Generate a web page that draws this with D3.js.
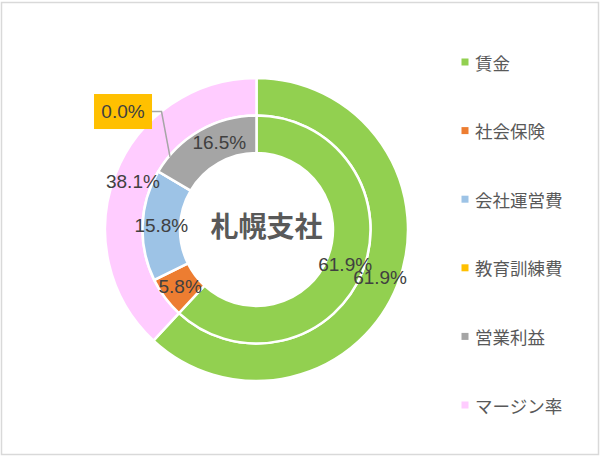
<!DOCTYPE html>
<html><head><meta charset="utf-8">
<script src="https://cdn.jsdelivr.net/npm/d3@7"></script>
<style>html,body{margin:0;padding:0;background:#fff}svg{display:block}</style>
</head><body>
<div id="chart"></div>
<script>
const categories = ["賃金","社会保険","会社運営費","教育訓練費","営業利益","マージン率"];
const innerCategories = ["賃金","社会保険","会社運営費","教育訓練費","営業利益"];
const innerValues = [61.9, 5.8, 15.8, 0.0, 16.5];
const outerCategories = ["賃金","マージン率"];
const outerValues = [61.9, 38.1];
const title = "札幌支社";

const colors = ["#92D050","#ED7D31","#9DC3E6","#FFC000","#A5A5A5","#FFCCFF"];

const W = 600, H = 458;
const cx = 256.5, cy = 229.5;
const svg = d3.select("#chart").append("svg").attr("width", W).attr("height", H);

svg.append("rect").attr("x",1.5).attr("y",2.5).attr("width",597).attr("height",452)
  .attr("fill","#fff").attr("stroke","#D9D9D9").attr("stroke-width",1.5);

const color = d3.scaleOrdinal().domain(categories).range(colors);
const pie = d3.pie().sort(null).value(d => d.v);

const g = svg.append("g").attr("transform", `translate(${cx},${cy})`);

const rings = [
  {cats: outerCategories, vals: outerValues, r0: 114, r1: 151.5},
  {cats: innerCategories, vals: innerValues, r0: 76.5, r1: 114}
];

const labelFont = "'Liberation Sans', Arial, sans-serif";
const nudge = {"営業利益": [10, -4]};

rings.forEach((ring, ri) => {
  const data = ring.cats.map((c, i) => ({c, v: ring.vals[i]}));
  const arcs = pie(data);
  const arc = d3.arc().innerRadius(ring.r0).outerRadius(ring.r1);
  g.selectAll(null).data(arcs).enter().append("path")
    .attr("d", arc).attr("fill", d => color(d.data.c))
    .attr("stroke", "#fff").attr("stroke-width", 2.5).attr("stroke-linejoin","miter");
  ring.arcs = arcs; ring.arc = arc;
});

rings.forEach(ring => {
  ring.arcs.forEach(d => {
    const txt = d.data.v.toFixed(1) + "%";
    let [x, y] = ring.arc.centroid(d);
    if (d.data.v === 0) {
      // callout label with box
      const bx = x - 51.5, by = y - 69.5;
      const bw = 58, bh = 35;
      const end = d3.pointRadial(d.startAngle + 0.165, ring.r1 - 1);
      g.append("path")
        .attr("d", `M${bx + bw/2},${by} H${bx + bw/2 + 9.5} L${end[0]},${end[1]}`)
        .attr("fill","none").attr("stroke","#A6A6A6").attr("stroke-width",1.5);
      g.append("rect").attr("x", bx - bw/2).attr("y", by - bh/2).attr("width", bw).attr("height", bh)
        .attr("fill", color(d.data.c));
      g.append("text").attr("x", bx).attr("y", by).attr("text-anchor","middle")
        .attr("dominant-baseline","central").attr("font-family", labelFont)
        .attr("font-size", 19).attr("fill","#404040").text(txt);
      return;
    }
    const n = nudge[d.data.c];
    if (n && ring.r0 < 100) { x += n[0]; y += n[1]; }
    g.append("text").attr("x", x).attr("y", y).attr("text-anchor","middle")
      .attr("dominant-baseline","central").attr("font-family", labelFont)
      .attr("font-size", 19).attr("fill","#404040").text(txt);
  });
});

g.append("text").attr("x", 10).attr("y", -4.5).attr("text-anchor","middle")
  .attr("dominant-baseline","central")
  .attr("font-family","'Noto Sans CJK JP', sans-serif").attr("font-weight","bold")
  .attr("font-size", 28).attr("fill","#595959").text(title);

// legend
const ly = d3.scalePoint().domain(categories).range([62, 405]);
const lg = svg.append("g");
categories.forEach(c => {
  lg.append("rect").attr("x", 461.5).attr("y", ly(c) - 3.5).attr("width", 7).attr("height", 7)
    .attr("fill", color(c));
  lg.append("text").attr("x", 475).attr("y", ly(c)).attr("dominant-baseline","central")
    .attr("font-family","'Noto Sans CJK JP', sans-serif").attr("font-size", 17.5)
    .attr("fill","#595959").text(c);
});
</script>
</body></html>
